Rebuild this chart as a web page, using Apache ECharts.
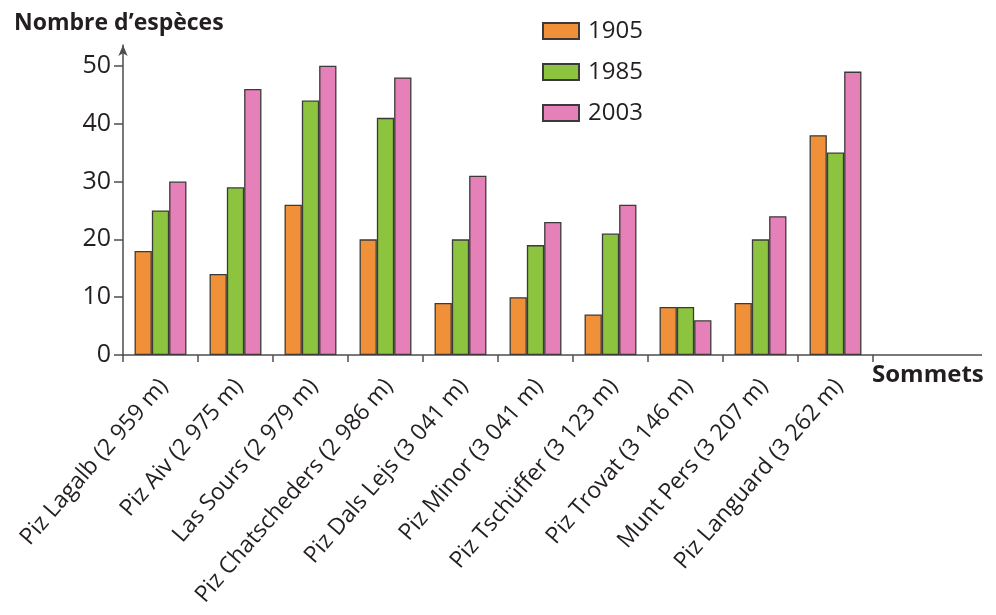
<!DOCTYPE html>
<html>
<head>
<meta charset="utf-8">
<script src="https://cdn.jsdelivr.net/npm/echarts@6/dist/echarts.min.js"></script>
<style>
html,body{margin:0;padding:0;background:#fff;}
#chart{width:996px;height:615px;}
</style>
</head>
<body>
<div id="chart"></div>
<script>
const categories = [
  'Piz Lagalb (2 959 m)',
  'Piz Aiv (2 975 m)',
  'Las Sours (2 979 m)',
  'Piz Chatscheders (2 986 m)',
  'Piz Dals Lejs (3 041 m)',
  'Piz Minor (3 041 m)',
  'Piz Tschüffer (3 123 m)',
  'Piz Trovat (3 146 m)',
  'Munt Pers (3 207 m)',
  'Piz Languard (3 262 m)'
];
const values1905 = [18, 14, 26, 20, 9, 10, 7, 8.3, 9, 38];
const values1985 = [25, 29, 44, 41, 20, 19, 21, 8.3, 20, 35];
const values2003 = [30, 46, 50, 48, 31, 23, 26, 6, 24, 49];
const yTicks = [0, 10, 20, 30, 40, 50];

const FONT = '"Open Sans", "Noto Sans", sans-serif';
const TXT = '#231f20';
const AX = '#4d4d4d';
const BORDER = '#3c3a38';

const chart = echarts.init(document.getElementById('chart'));
const gridLeft = 123, gridRight = 123, gridTop = 45, gridBottom = 260;

function barSeries(name, data, color) {
  return {
    name: name,
    type: 'bar',
    data: data,
    barWidth: 17.3,
    barGap: '0%',
    itemStyle: { color: color, borderColor: BORDER, borderWidth: 1.3 }
  };
}

chart.setOption({
  animation: false,
  backgroundColor: '#ffffff',
  textStyle: { fontFamily: FONT },
  title: [
    { text: 'Nombre d\u2019espèces', left: 9, top: 7,
      textStyle: { fontFamily: FONT, fontSize: 23, fontWeight: 'bold', color: TXT, letterSpacing: -0.6 } },
    { text: 'Sommets', left: 867, top: 358,
      textStyle: { fontFamily: FONT, fontSize: 24, fontWeight: 'bold', color: TXT, letterSpacing: -0.6 } }
  ],
  legend: {
    orient: 'vertical',
    left: 537, top: 14,
    itemWidth: 36, itemHeight: 16,
    itemGap: 17,
    icon: 'rect',
    textStyle: { fontFamily: FONT, fontSize: 24, color: TXT, padding: [0, 0, 0, 4] },
    data: ['1905', '1985', '2003']
  },
  grid: { left: gridLeft, right: gridRight, top: gridTop, bottom: gridBottom, containLabel: false },
  xAxis: {
    type: 'category',
    data: categories,
    boundaryGap: true,
    axisLine: { show: true, lineStyle: { color: AX, width: 1.5 } },
    axisTick: { show: true, length: 7, alignWithLabel: false, lineStyle: { color: AX, width: 1.5 } },
    axisLabel: {
      interval: 0, rotate: 49, margin: 31,
      fontFamily: FONT, fontSize: 23, color: TXT, letterSpacing: -0.4,
      padding: [0, -5, 0, 0]
    },
    splitLine: { show: false }
  },
  yAxis: {
    type: 'value',
    min: 0, max: 53.6,
    axisLine: { show: true, lineStyle: { color: AX, width: 1.5 }, symbol: ['none', 'arrow'], symbolSize: [7, 11] },
    axisTick: { show: true, length: 9, customValues: yTicks, lineStyle: { color: AX, width: 1.5 } },
    axisLabel: { customValues: yTicks, margin: 12, fontFamily: FONT, fontSize: 25, color: TXT },
    splitLine: { show: false }
  },
  series: [
    barSeries('1905', values1905, '#f0913a'),
    barSeries('1985', values1985, '#8cc43f'),
    barSeries('2003', values2003, '#e680b9')
  ]
});

// extend the horizontal axis line to the right as in the reference
const y0 = chart.convertToPixel({ yAxisIndex: 0 }, 0);
const xEnd = 996 - gridRight;
chart.setOption({
  graphic: [{
    type: 'line', silent: true,
    shape: { x1: xEnd, y1: y0, x2: 982, y2: y0 },
    style: { stroke: AX, lineWidth: 1.5 }
  }]
});
</script>
</body>
</html>
